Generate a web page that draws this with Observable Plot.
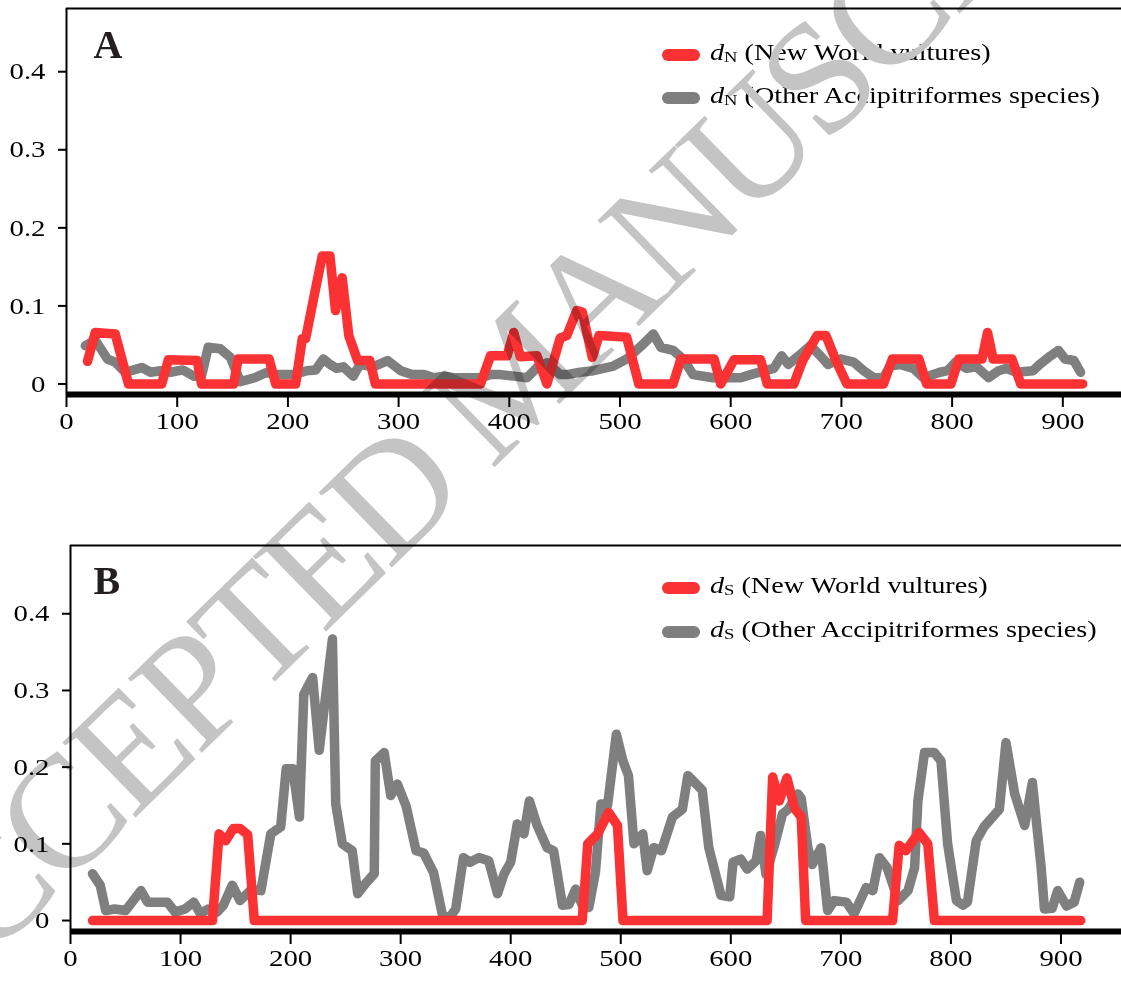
<!DOCTYPE html>
<html>
<head>
<meta charset="utf-8">
<script src="https://cdn.jsdelivr.net/npm/d3@7"></script>
<script src="https://cdn.jsdelivr.net/npm/@observablehq/plot@0.6"></script>
<style>
  html, body { margin: 0; padding: 0; background: #fff; }
  #wrap { position: relative; width: 1121px; height: 985px; overflow: hidden; background: #fff;
          font-family: "Liberation Serif", "Times New Roman", serif; }
  #wrap > svg { position: absolute; left: 0; display: block; }
</style>
</head>
<body>
<div id="wrap"></div>
<script>
// ---------- tick values ----------
const xTicks = [0, 100, 200, 300, 400, 500, 600, 700, 800, 900];
const yTicks = [0, 0.1, 0.2, 0.3, 0.4];
const yTickLabels = ["0", "0.1", "0.2", "0.3", "0.4"];

// ---------- series names ----------
const seriesNames = ["New World vultures", "Other Accipitriformes species"];

// ---------- Panel A: dN ----------
const posA_nwv = [19, 26, 44, 56, 86, 92, 118, 122, 151, 155, 183, 189, 207, 213, 216, 225, 231, 238, 243, 249, 255, 263, 274, 279,
  374, 383, 398, 404, 410, 425, 434, 446, 452, 461, 466, 475, 481, 506, 517, 548, 555, 585, 591, 603, 627, 633, 657, 665, 678, 686,
  695, 705, 738, 746, 770, 777, 799, 806, 827, 832, 837, 854, 862, 918];
const dnA_nwv = [0.029, 0.066, 0.064, 0, 0, 0.031, 0.030, 0, 0, 0.032, 0.032, 0, 0, 0.058, 0.058, 0.122, 0.164, 0.164, 0.094, 0.136, 0.062, 0.03, 0.03, 0,
  0, 0.036, 0.036, 0.066, 0.035, 0.036, 0, 0.059, 0.062, 0.094, 0.092, 0.034, 0.062, 0.06, 0, 0, 0.032, 0.032, 0, 0.031, 0.031, 0, 0, 0.03, 0.062, 0.062,
  0.03, 0, 0, 0.032, 0.032, 0, 0, 0.032, 0.032, 0.066, 0.032, 0.032, 0, 0];

const posA_other = [17, 26, 37, 44, 53, 61, 68, 76, 85, 94, 105, 115, 122, 128, 139, 148, 157, 170, 181, 190, 205, 217, 225, 232, 238,
  244, 250, 259, 265, 277, 290, 302, 312, 323, 332, 341, 350, 362, 374, 383, 392, 404, 416, 425, 434, 446, 452, 464, 476, 494,
  506, 521, 530, 537, 548, 557, 566, 584, 609, 618, 631, 639, 646, 652, 663, 672, 681, 688, 699, 711, 720, 729, 738, 744, 753,
  765, 774, 789, 796, 803, 813, 822, 833, 842, 849, 858, 873, 879, 889, 896, 902, 910, 916];
const dnA_other = [0.049, 0.056, 0.032, 0.028, 0.015, 0.018, 0.021, 0.015, 0.017, 0.015, 0.018, 0.01, 0.01, 0.047, 0.045, 0.034, 0.003, 0.008, 0.015, 0.012, 0.012, 0.017, 0.018, 0.032, 0.025,
  0.02, 0.022, 0.01, 0.025, 0.022, 0.03, 0.017, 0.012, 0.012, 0.008, 0.01, 0.008, 0.008, 0.008, 0.012, 0.012, 0.01, 0.008, 0.021, 0.027, 0.012, 0.012, 0.015, 0.017, 0.023,
  0.032, 0.051, 0.064, 0.047, 0.043, 0.032, 0.012, 0.008, 0.008, 0.012, 0.017, 0.02, 0.036, 0.025, 0.038, 0.049, 0.036, 0.025, 0.032, 0.028, 0.017, 0.008, 0.008, 0.023, 0.025,
  0.02, 0.008, 0.015, 0.017, 0.028, 0.02, 0.022, 0.008, 0.017, 0.02, 0.015, 0.017, 0.025, 0.036, 0.043, 0.032, 0.03, 0.015];

// ---------- Panel B: dS ----------
const posB_nwv = [20, 129, 135, 141, 148, 154, 161, 167, 465, 470, 479, 489, 497, 502, 633, 638, 644, 651, 658, 664, 668, 747, 753, 759, 771, 779, 785, 918];
const dsB_nwv = [0, 0, 0.113, 0.104, 0.12, 0.12, 0.112, 0, 0, 0.1, 0.113, 0.141, 0.124, 0, 0, 0.187, 0.156, 0.186, 0.146, 0.135, 0, 0, 0.098, 0.091, 0.115, 0.1, 0, 0];

const posB_other = [20, 27, 32, 40, 50, 64, 70, 88, 95, 104, 112, 118, 125, 133, 139, 147, 154, 164, 173, 182, 191, 196, 202, 208, 212,
  220, 226, 238, 241, 247, 256, 261, 268, 276, 277, 285, 291, 297, 305, 314, 321, 330, 338, 344, 350, 357, 363, 371, 380, 388,
  394, 400, 406, 412, 417, 424, 433, 439, 447, 453, 459, 465, 471, 477, 482, 488, 496, 502, 507, 512, 520, 524, 530, 537, 547,
  556, 561, 574, 580, 591, 599, 602, 609, 615, 623, 627, 632, 640, 647, 652, 661, 664, 670, 674, 682, 688, 694, 705, 712, 723,
  729, 735, 742, 752, 761, 767, 770, 776, 785, 791, 797, 805, 811, 815, 823, 830, 844, 850, 858, 867, 874, 882, 885, 892, 897,
  905, 912, 917];
const dsB_other = [0.061, 0.046, 0.013, 0.015, 0.013, 0.039, 0.024, 0.024, 0.011, 0.015, 0.024, 0.009, 0.015, 0.011, 0.02, 0.046, 0.026, 0.04, 0.039, 0.113, 0.122, 0.198, 0.198, 0.135, 0.295,
  0.317, 0.222, 0.367, 0.152, 0.1, 0.091, 0.035, 0.048, 0.061, 0.208, 0.219, 0.163, 0.178, 0.149, 0.091, 0.088, 0.062, 0.007, 0.003, 0.015, 0.082, 0.076, 0.082, 0.078, 0.035,
  0.061, 0.076, 0.126, 0.113, 0.156, 0.124, 0.095, 0.091, 0.02, 0.021, 0.041, 0.02, 0.017, 0.063, 0.152, 0.15, 0.243, 0.208, 0.189, 0.1, 0.113, 0.065, 0.095, 0.091, 0.135,
  0.145, 0.189, 0.17, 0.095, 0.033, 0.031, 0.076, 0.08, 0.067, 0.078, 0.111, 0.06, 0.1, 0.139, 0.145, 0.165, 0.159, 0.095, 0.073, 0.095, 0.013, 0.026, 0.024, 0.009, 0.043,
  0.039, 0.082, 0.069, 0.026, 0.039, 0.069, 0.156, 0.219, 0.219, 0.208, 0.1, 0.026, 0.02, 0.024, 0.104, 0.122, 0.145, 0.232, 0.165, 0.124, 0.18, 0.069, 0.015, 0.016, 0.039,
  0.019, 0.024, 0.05];

// ---------- styling ----------
const FONT = '"Liberation Serif", "Times New Roman", Times, serif';
const RED = "#fb3233";
const GRAY = "#7f7f7f";
const W = 1121;
const STRETCH = 1.2;
const LINE_W = 9.5;

function stretchTicks(svg) {
  svg.querySelectorAll('[aria-label="x-axis tick label"] text, [aria-label="y-axis tick label"] text').forEach(t => {
    const tr = t.getAttribute("transform");
    if (tr) t.setAttribute("transform", tr + ` scale(${STRETCH},1)`);
  });
}

function makePanel(o) {
  const red = o.redX.map((p, i) => ({pos: p, val: o.redY[i]}));
  const gray = o.grayX.map((p, i) => ({pos: p, val: o.grayY[i]}));
  const svg = Plot.plot({
    width: W, height: o.height,
    marginLeft: o.ml, marginRight: 0, marginTop: o.mt, marginBottom: o.mb,
    style: {fontFamily: FONT, background: "transparent", color: "#000", overflow: "visible"},
    x: {domain: o.xDom},
    y: {domain: o.yDom},
    marks: [
      Plot.axisY({ticks: yTicks, tickFormat: d => yTickLabels[yTicks.indexOf(d)], tickSize: 8, tickPadding: 13,
                  fontSize: 24, strokeWidth: 2, label: null}),
      Plot.axisX({ticks: xTicks, tickFormat: d => String(d), tickSize: 13, tickPadding: 4,
                  fontSize: 24, strokeWidth: 2, label: null}),
      Plot.line(gray, {x: "pos", y: "val", stroke: GRAY, strokeWidth: LINE_W, strokeLinejoin: "round", strokeLinecap: "round"}),
      Plot.line(red, {x: "pos", y: "val", stroke: RED, strokeWidth: LINE_W, strokeLinejoin: "round", strokeLinecap: "round"}),
      Plot.ruleX([o.xDom[0]], {stroke: "#000", strokeWidth: 2}),
      Plot.ruleY([o.yDom[1]], {stroke: "#000", strokeWidth: 2}),
      Plot.ruleY([o.yDom[0]], {stroke: "#000", strokeWidth: 6}),
      Plot.text([o.letter], {text: d => d, frameAnchor: "top-left", dx: o.ldx, dy: o.ldy, lineAnchor: "top",
                  fontSize: 40, fontWeight: "bold", fill: "#231f20", fontFamily: FONT})
    ]
  });
  stretchTicks(svg);
  return svg;
}

const wrap = document.getElementById("wrap");

const svgA = makePanel({
  redX: posA_nwv, redY: dnA_nwv, grayX: posA_other, grayY: dnA_other,
  xDom: [0, 953], yDom: [-0.0135, 0.481],
  height: 470, ml: 66, mt: 8, mb: 76, letter: "A", ldx: 27, ldy: 21
});
svgA.style.top = "0px";
wrap.appendChild(svgA);

const svgB = makePanel({
  redX: posB_nwv, redY: dsB_nwv, grayX: posB_other, grayY: dsB_other,
  xDom: [0, 955], yDom: [-0.0143, 0.489],
  height: 515, ml: 70, mt: 75, mb: 54, letter: "B", ldx: 23, ldy: 20
});
svgB.style.top = "470px";
wrap.appendChild(svgB);

// ---------- legends + watermark overlay ----------
const ov = d3.select(wrap).append("svg")
  .attr("width", W).attr("height", 985)
  .style("top", "0px").style("mix-blend-mode", "multiply")
  .style("font-family", FONT);

const legends = [
  {sym: "N", rows: [60, 103]},
  {sym: "S", rows: [593, 637]}
];
legends.forEach(lg => {
  lg.rows.forEach((by, i) => {
    ov.append("rect").attr("x", 662).attr("y", by - 11).attr("width", 38).attr("height", 12)
      .attr("rx", 6).attr("fill", i === 0 ? RED : GRAY);
    const t = ov.append("text").attr("transform", `translate(710,${by}) scale(${STRETCH},1)`)
      .attr("font-size", 23.5).attr("fill", "#000");
    t.append("tspan").attr("font-style", "italic").text("d");
    t.append("tspan").attr("font-size", 15.5).attr("dy", 1.5).text(lg.sym);
    t.append("tspan").attr("dy", -1.5).text(" (" + seriesNames[i] + ")");
  });
});

ov.append("text")
  .attr("transform", "translate(548,415) rotate(-44.3)")
  .attr("text-anchor", "middle")
  .attr("font-size", 160)
  .attr("letter-spacing", -6)
  .attr("fill", "#c4c4c4")
  .text("ACCEPTED MANUSCRIPT");
</script>
</body>
</html>
